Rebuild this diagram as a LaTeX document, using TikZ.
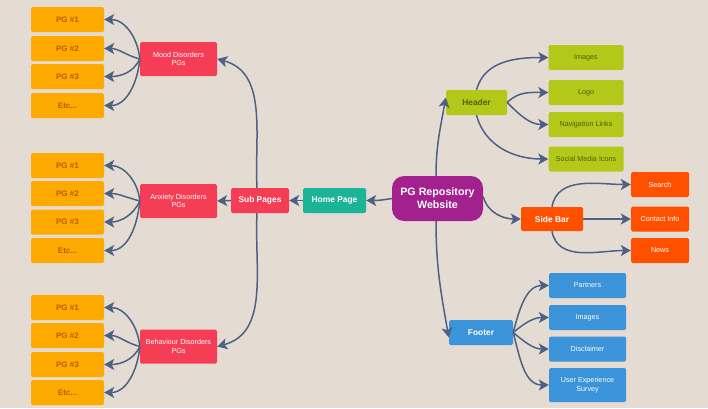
\documentclass[tikz,border=0pt]{standalone}
\usepackage{fontspec}
\setmainfont{Liberation Sans}
\usetikzlibrary{arrows.meta}
\definecolor{bgc}{HTML}{E4DCD3}
\definecolor{pgor}{HTML}{FFAA00}
\definecolor{pgtx}{HTML}{B45F06}
\definecolor{dred}{HTML}{F53D56}
\definecolor{teal}{HTML}{1CB496}
\definecolor{purp}{HTML}{A3208F}
\definecolor{lime}{HTML}{B4C81A}
\definecolor{limetx}{HTML}{4F5E08}
\definecolor{sbor}{HTML}{FF5000}
\definecolor{blu}{HTML}{3B94D9}
\definecolor{conn}{HTML}{4C6183}
\begin{document}
\begin{tikzpicture}[x=1pt,y=1pt,
  box/.style={rectangle, rounded corners=1.5pt, inner sep=1pt, align=center, font=\fontsize{7.2}{8.6}\selectfont},
  pgbox/.style={box, fill=pgor, text=pgtx, minimum width=73pt, minimum height=25pt, font=\bfseries\fontsize{8}{9}\selectfont},
  disbox/.style={box, fill=dred, text=white, minimum width=77pt, minimum height=34pt},
  boldbox/.style={box, text=white, minimum height=25pt, font=\bfseries\fontsize{8.4}{10}\selectfont},
  grbox/.style={box, fill=lime, text=limetx, minimum width=75pt, minimum height=25pt},
  sbbox/.style={box, fill=sbor, text=white, minimum width=58pt, minimum height=25pt},
  blbox/.style={box, fill=blu, text=white, minimum width=77pt, minimum height=25pt},
  conn/.style={draw=conn, line width=1.5pt, -{Stealth[length=10pt,width=11pt,inset=2.5pt]}}
]
\fill[bgc] (0,0) rectangle (708,-408);
\useasboundingbox (0,0) rectangle (708,-408);

% left PG boxes
\foreach \g/\a/\b/\c/\d in {m/19.5/48.5/76.5/105.5, a/165.5/193.5/222/250.5, b/307.5/335.5/364.5/392.5}{
  \node[pgbox] (\g1) at (67.5,-\a) {PG \#1};
  \node[pgbox] (\g2) at (67.5,-\b) {PG \#2};
  \node[pgbox] (\g3) at (67.5,-\c) {PG \#3};
  \node[pgbox] (\g4) at (67.5,-\d) {Etc...};
}
\node[disbox] (mood) at (178.5,-59) {Mood Disorders\\PGs};
\node[disbox] (anx) at (178.5,-201) {Anxiety Disorders\\PGs};
\node[disbox] (beh) at (178.5,-346.5) {Behaviour Disorders\\PGs};

\node[boldbox, fill=dred, minimum width=58pt] (sub) at (260,-200.5) {Sub Pages};
\node[boldbox, fill=teal, minimum width=63pt] (home) at (334.5,-200.5) {Home Page};
\node[box, fill=purp, text=white, rounded corners=12pt, minimum width=91pt, minimum height=45pt, font=\bfseries\fontsize{10.7}{13}\selectfont] (pg) at (437.5,-198.5) {PG Repository\\Website};

\node[boldbox, fill=lime, text=limetx, minimum width=61pt] (hd) at (476.5,-102.5) {Header};
\node[grbox] (img) at (586,-57.5) {Images};
\node[grbox] (logo) at (586,-92.5) {Logo};
\node[grbox] (nav) at (586,-124.5) {Navigation Links};
\node[grbox] (soc) at (586,-159) {Social Media Icons};

\node[boldbox, fill=sbor, minimum width=62pt, minimum height=24pt] (sb) at (552,-219) {Side Bar};
\node[sbbox] (srch) at (660,-184.5) {Search};
\node[sbbox] (ci) at (660,-219) {Contact Info};
\node[sbbox] (news) at (660,-250.5) {News};

\node[boldbox, fill=blu, minimum width=64pt] (ft) at (481,-332.5) {Footer};
\node[blbox] (part) at (587.5,-285.5) {Partners};
\node[blbox] (bimg) at (587.5,-317.5) {Images};
\node[blbox] (disc) at (587.5,-349) {Disclaimer};
\node[blbox, minimum height=34pt] (ux) at (587.5,-385) {User Experience\\Survey};

% connectors
\draw[conn] (pg.west) to[out=190,in=0] (home.east);
\draw[conn] (home.west) -- (sub.east);
\draw[conn] ([xshift=-3pt]sub.north) to[out=93,in=-15] (mood.east);
\draw[conn] ([xshift=-3pt]sub.south) to[out=-93,in=15] (beh.east);
\draw[conn] (sub.west) -- (anx.east);

\foreach \s/\g in {mood/m, anx/a, beh/b}{
  \draw[conn] (\s.west) to[out=95,in=0] (\g1.east);
  \draw[conn] (\s.west) to[out=165,in=0] (\g2.east);
  \draw[conn] (\s.west) to[out=-115,in=0] (\g3.east);
  \draw[conn] (\s.west) to[out=-95,in=0] (\g4.east);
}

\draw[conn] ([xshift=-1.5pt]pg.north) to[out=90,in=-100] ([yshift=5pt]hd.west);
\draw[conn] ([xshift=-1.5pt]pg.south) to[out=-90,in=100] ([yshift=-5pt]ft.west);
\draw[conn] ([yshift=2pt]pg.east) to[out=-75,in=180] (sb.west);

\draw[conn] (hd.north) to[out=75,in=180] (img.west);
\draw[conn] (hd.east) to[out=45,in=180] (logo.west);
\draw[conn] (hd.east) to[out=-45,in=180] (nav.west);
\draw[conn] (hd.south) to[out=-75,in=180] (soc.west);

\draw[conn] (sb.north) to[out=80,in=180] (srch.west);
\draw[conn] (sb.east) -- (ci.west);
\draw[conn] (sb.south) to[out=-80,in=180] (news.west);

\draw[conn] (ft.east) to[out=75,in=180] (part.west);
\draw[conn] (ft.east) to[out=40,in=180] (bimg.west);
\draw[conn] (ft.east) to[out=-40,in=180] (disc.west);
\draw[conn] (ft.east) to[out=-75,in=180] (ux.west);
\end{tikzpicture}
\end{document}
